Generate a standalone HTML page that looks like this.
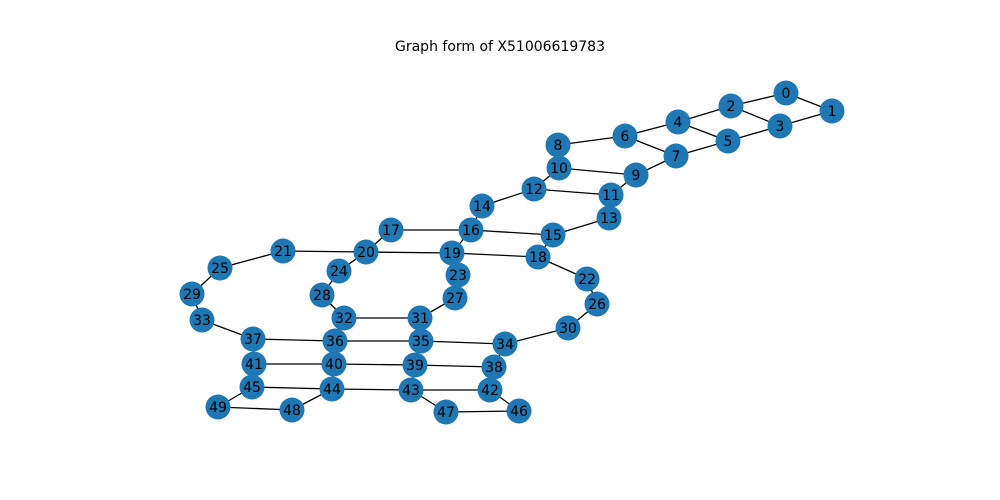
<!DOCTYPE html>
<html><head><meta charset="utf-8"><style>
body{margin:0;background:#fff}
svg{display:block}
text{font-family:"DejaVu Sans","Liberation Sans",sans-serif}
</style></head><body>
<svg id="chart" width="1000" height="500">
<text x="500" y="51" text-anchor="middle" font-size="14">Graph form of X51006619783</text>
<g id="edges"></g><g id="nodes"></g>
</svg>
<script>
const nodeX=[786,832,731,780,678,728,625,676,558,636,559,611,534,609,482,553,471,391,538,452,366,283,587,458,339,220,597,455,322,192,568,420,344,202,505,421,335,253,494,415,334,254,490,411,332,252,519,446,292,218];
const nodeY=[93,111,106,126,122,141,136,156,145,175,168,195,189,218,206,235,230,230,257,253,252,251,279,275,271,268,304,298,295,294,328,318,318,320,344,341,341,339,367,365,364,364,390,390,389,387,411,412,410,407];
const edgeFrom=[0,0,1,2,2,3,4,4,5,6,6,7,8,9,9,10,11,11,12,13,14,15,16,16,15,17,18,19,20,20,19,23,18,21,22,24,25,26,27,28,29,30,31,33,34,35,36,37,41,39,38,34,41,44,43,42,38,45,48,44,43,46,42,40,35,31,32,39];
const edgeTo=[1,2,3,3,4,5,5,6,7,7,8,9,10,10,11,12,12,13,14,15,16,16,17,19,18,20,19,20,21,24,23,27,22,25,26,28,29,30,31,32,33,34,32,37,35,36,37,41,40,40,39,38,45,45,44,43,42,49,49,48,47,47,46,44,39,35,36,43];
const NS="http://www.w3.org/2000/svg";
const eg=document.getElementById('edges'),ng=document.getElementById('nodes');
for(let i=0;i<edgeFrom.length;i++){
  const l=document.createElementNS(NS,'line');
  l.setAttribute('x1',nodeX[edgeFrom[i]]);l.setAttribute('y1',nodeY[edgeFrom[i]]);
  l.setAttribute('x2',nodeX[edgeTo[i]]);l.setAttribute('y2',nodeY[edgeTo[i]]);
  l.setAttribute('stroke','#000');l.setAttribute('stroke-width','1.3');
  
  
  eg.appendChild(l);
}
for(let i=0;i<nodeX.length;i++){
  const g=document.createElementNS(NS,'g');
  
  
  const c=document.createElementNS(NS,'circle');
  c.setAttribute('cx',nodeX[i]);c.setAttribute('cy',nodeY[i]);c.setAttribute('r','12.5');
  c.setAttribute('fill','#1f77b4');
  const t=document.createElementNS(NS,'text');
  t.setAttribute('x',nodeX[i]);t.setAttribute('y',nodeY[i]+5);
  t.setAttribute('text-anchor','middle');t.setAttribute('font-size','14');
  t.textContent=i;
  g.appendChild(c);g.appendChild(t);ng.appendChild(g);
}
</script>
</body></html>
